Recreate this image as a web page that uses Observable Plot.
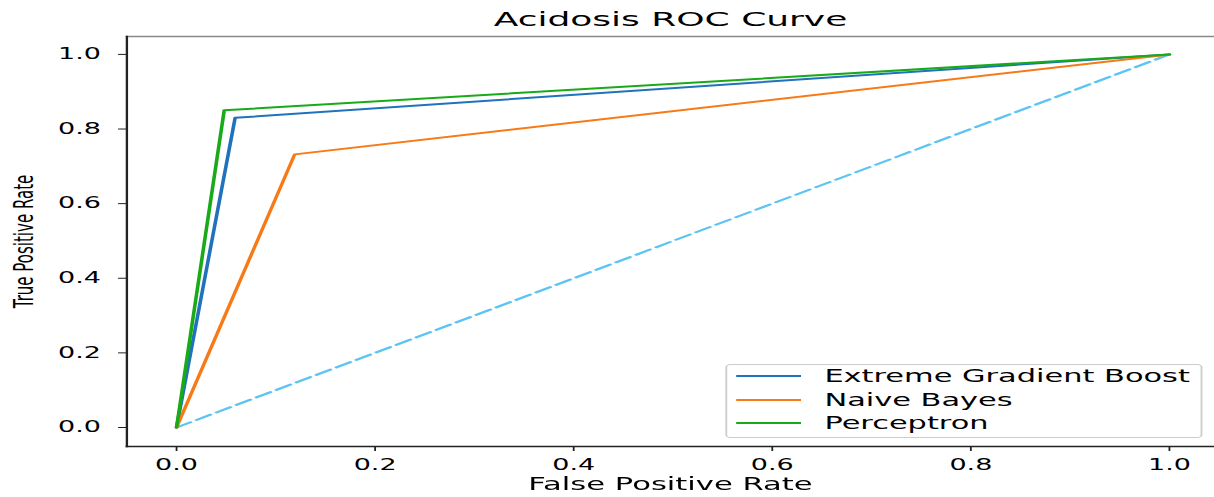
<!DOCTYPE html>
<html><head><meta charset="utf-8">
<script src="https://cdn.jsdelivr.net/npm/d3@7"></script>
<script src="https://cdn.jsdelivr.net/npm/@observablehq/plot@0.6"></script>
<style>
html,body{margin:0;padding:0;background:#fff;overflow:hidden;}
#wrap{position:relative;width:674px;height:497px;transform:scaleX(1.8);transform-origin:0 0;font-family:"DejaVu Sans",sans-serif;color:#000;}
#legend{position:absolute;left:403px;top:364px;width:265px;height:74px;box-sizing:border-box;border:1px solid #cccccc;border-radius:3px;background:rgba(255,255,255,0.85);}
.row{position:absolute;left:0;width:100%;height:22px;}
.sw{position:absolute;left:5px;top:10px;width:36px;height:2px;}
.lb{position:absolute;left:54px;top:0;line-height:22px;font-size:16.9px;white-space:nowrap;}
</style></head><body><div id="wrap"></div>
<script>
const titleText = "Acidosis ROC Curve";
const xLabel = "False Positive Rate";
const yLabel = "True Positive Rate";
const seriesNames = ["Extreme Gradient Boost", "Naive Bayes", "Perceptron"];
const seriesColors = ["#1f72bb", "#f77a17", "#18aa18"];
const fprXGB = [0, 0.059, 1];
const tprXGB = [0, 0.83, 1];
const fprNB = [0, 0.119, 1];
const tprNB = [0, 0.732, 1];
const fprPer = [0, 0.048, 1];
const tprPer = [0, 0.85, 1];
const fprChance = [0, 1];
const tprChance = [0, 1];
const chanceColor = "#5cc4f2";
const tickValues = [0, 0.2, 0.4, 0.6, 0.8, 1.0];

const curves = [[fprXGB, tprXGB], [fprNB, tprNB], [fprPer, tprPer]];
const rows = [];
curves.forEach(([f, t], i) => f.forEach((v, j) => rows.push({name: seriesNames[i], fpr: v, tpr: t[j]})));
const chance = fprChance.map((v, j) => ({fpr: v, tpr: tprChance[j]}));
const fmt = d3.format(".1f");

const chart = Plot.plot({
  width: 674, height: 497,
  marginLeft: 70, marginRight: 0, marginTop: 36, marginBottom: 51,
  x: {domain: [-0.05, 1.045]},
  y: {domain: [-0.051, 1.048]},
  color: {domain: seriesNames, range: seriesColors},
  style: {fontFamily: "DejaVu Sans, sans-serif", fontSize: "15px", color: "#000", background: "#fff", overflow: "visible"},
  marks: [
    Plot.line(chance, {x: "fpr", y: "tpr", stroke: chanceColor, strokeWidth: 2, strokeDasharray: "9.4,4"}),
    Plot.line(rows, {x: "fpr", y: "tpr", z: "name", stroke: "name", strokeWidth: 2}),
    Plot.frame({anchor: "top", stroke: "#888", strokeWidth: 1.3}),
    Plot.frame({anchor: "left", stroke: "#222", strokeWidth: 1.3}),
    Plot.frame({anchor: "bottom", stroke: "#222", strokeWidth: 1.5}),
    Plot.axisY({ticks: tickValues, tickFormat: fmt, tickSize: 4.4, tickPadding: 10, fontSize: 15, label: null, stroke: "#222"}),
    Plot.axisX({ticks: tickValues, tickFormat: fmt, tickSize: 5, tickPadding: 8, fontSize: 15, label: null, stroke: "#222"}),
    Plot.text([titleText], {text: d => d, frameAnchor: "top", lineAnchor: "middle", textAnchor: "middle", dy: -17, fontSize: 20}),
    Plot.text([yLabel], {text: d => d, frameAnchor: "left", lineAnchor: "middle", textAnchor: "middle", dx: -57, rotate: -90, fontSize: 15}),
    Plot.text([xLabel], {text: d => d, frameAnchor: "bottom", lineAnchor: "middle", textAnchor: "middle", dy: 38, fontSize: 17})
  ]
});
const wrap = document.getElementById("wrap");
wrap.appendChild(chart);

const legend = document.createElement("div");
legend.id = "legend";
const centers = [11, 35.3, 57.7];
seriesNames.forEach((n, i) => {
  const r = document.createElement("div");
  r.className = "row";
  r.style.top = (centers[i] - 11) + "px";
  const sw = document.createElement("div");
  sw.className = "sw";
  sw.style.background = seriesColors[i];
  const lb = document.createElement("div");
  lb.className = "lb";
  lb.textContent = n;
  r.appendChild(sw); r.appendChild(lb);
  legend.appendChild(r);
});
wrap.appendChild(legend);
</script></body></html>
